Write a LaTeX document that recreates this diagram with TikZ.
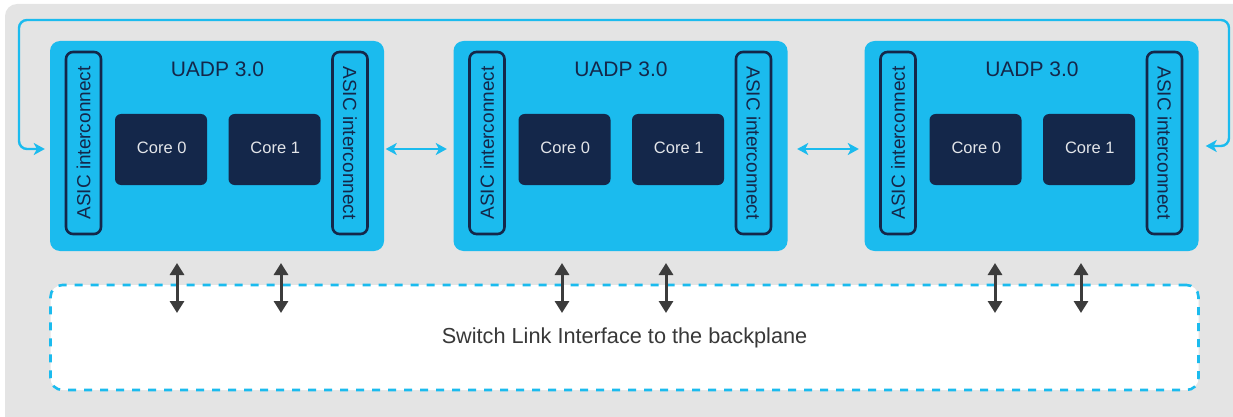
\documentclass[tikz,border=0pt]{standalone}
\usepackage{fontspec}
\setmainfont{Liberation Sans}
\usetikzlibrary{arrows.meta,calc}
\definecolor{panelgray}{HTML}{E4E4E4}
\definecolor{chipblue}{HTML}{1BBBEE}
\definecolor{navy}{HTML}{14274A}
\definecolor{arrowdark}{HTML}{3C3C3C}
\tikzset{
  x=1pt,y=-1pt,
  chip/.style={fill=chipblue,rounded corners=10pt,minimum width=334pt,minimum height=210pt,inner sep=0pt},
  core/.style={fill=navy,rounded corners=6pt,minimum width=92pt,minimum height=71pt,inner sep=0pt,text=white!88!navy,font=\fontsize{16.5}{18}\selectfont},
  asic/.style={draw=navy,line width=2.6pt,rounded corners=7pt,minimum width=182pt,minimum height=35pt,inner sep=0pt,text=navy,font=\fontsize{19}{21}\selectfont},
  title/.style={text=navy,font=\fontsize{21}{23}\selectfont,inner sep=0pt},
  bluelink/.style={draw=chipblue,line width=2.4pt,-{Stealth[length=11pt,width=12pt,inset=3pt]}},
  bluedbl/.style={draw=chipblue,line width=2.4pt,{Stealth[length=11pt,width=12pt,inset=3pt]}-{Stealth[length=11pt,width=12pt,inset=3pt]}},
  darkdbl/.style={draw=arrowdark,line width=3pt,{Triangle[length=12pt,width=14pt]}-{Triangle[length=12pt,width=14pt]}},
}
\newcommand{\chipunit}[2]{%
  \node[chip] (#2chip) at (#1+167,146) {};
  \node[title] (#2title) at (#1+167.5,69) {UADP 3.0};
  \node[asic,rotate=90] (#2left) at (#1+33.5,143) {ASIC interconnect};
  \node[asic,rotate=-90] (#2right) at (#1+300,143) {ASIC interconnect};
  \node[core] (#2core0) at (#1+111,149.5) {\hspace{1.5pt}\raisebox{3pt}{Core 0}};
  \node[core] (#2core1) at (#1+224.5,149.5) {\hspace{1.5pt}\raisebox{3pt}{Core 1}};
}
\begin{document}
\begin{tikzpicture}
\useasboundingbox (0,0) rectangle (1233,417);
\fill[panelgray,rounded corners=12pt] (5,4) rectangle (1260,440);
\chipunit{50}{a}
\chipunit{453.5}{b}
\chipunit{864.5}{c}
\node[draw=chipblue,dash pattern=on 8pt off 8pt,line width=2.6pt,fill=white,rounded corners=12pt,minimum width=1148pt,minimum height=105pt,inner sep=0pt] (backplane) at (624.5,337.5) {};
\node[inner sep=0pt,text=black!78,font=\fontsize{21.7}{23}\selectfont] (bplabel) at (624.5,337.5) {Switch Link Interface to the backplane};
% top loop
\coordinate (loopL) at (19,20);
\coordinate (loopR) at (1229,20);
\coordinate (tipL) at ($(achip.west)+(-5,3)$);
\coordinate (tipR) at ($(cchip.east)+(7,0)$);
\draw[bluelink,rounded corners=8pt] (1000,20) -- (loopL) -- (19,149) -- (tipL);
\draw[bluelink,rounded corners=8pt] (1000,20) -- (loopR) -- (1229,146) -- (tipR);
% chip to chip
\coordinate (ab1) at ($(achip.east)+(1.5,3)$);
\coordinate (ab2) at ($(bchip.west)+(-6.5,3)$);
\coordinate (bc1) at ($(bchip.east)+(9.5,3)$);
\coordinate (bc2) at ($(cchip.west)+(-5.5,3)$);
\draw[bluedbl] (ab1) -- (ab2);
\draw[bluedbl] (bc1) -- (bc2);
% to the backplane
\foreach \px/\nm in {177/a,281/b,562/c,666/d,995/e,1081/f}{
  \coordinate (up\nm) at (\px,263);
  \coordinate (dn\nm) at (\px,313);
  \draw[darkdbl] (up\nm) -- (dn\nm);
}
\end{tikzpicture}
\end{document}
